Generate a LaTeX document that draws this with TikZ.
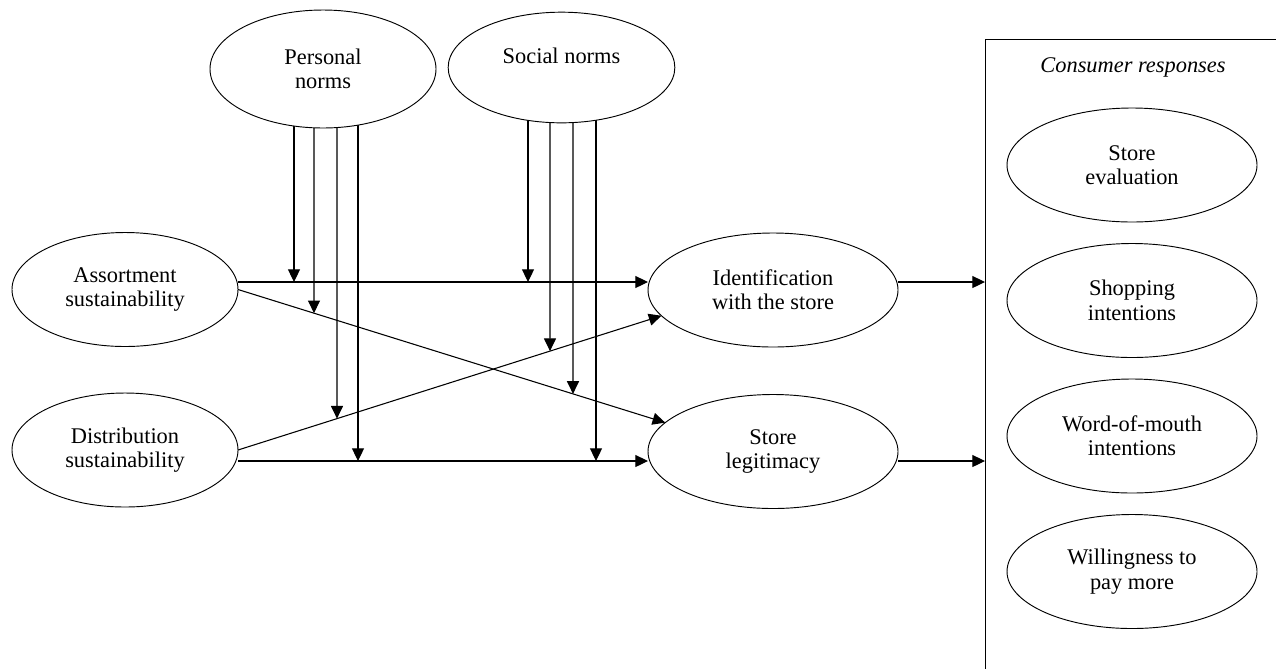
\documentclass[tikz,border=0pt]{standalone}
\usepackage{fontspec}
\setmainfont{Liberation Serif}
\usetikzlibrary{arrows.meta,shapes.geometric,backgrounds,calc}
\begin{document}
\begin{tikzpicture}[x=0.75pt,y=-0.75pt,
  ell/.style={ellipse,draw,line width=0.7pt,fill=white,inner sep=0pt,outer sep=0pt,align=center,font=\fontsize{16.8pt}{18.3pt}\selectfont},
  lft/.style={ell,minimum width=169.5pt,minimum height=85.5pt},
  mid/.style={ell,minimum width=187.5pt,minimum height=85.5pt},
  arr/.style={line width=0.8pt,-{Triangle[length=9.5pt,width=9pt]}},
  frame/.style={line width=0.7pt}]
\useasboundingbox (0,0) rectangle (1276,669);

% moderators
\node[ell,minimum width=169.5pt,minimum height=88.5pt] (pn) at (323,69) {Personal\\norms};
\node[ell,minimum width=170pt,minimum height=83pt] (sn) at (561.5,67.5) {Social norms\\~};

% predictors
\node[lft] (as) at (125,289.5) {Assortment\\sustainability};
\node[lft] (ds) at (125,450) {Distribution\\sustainability};

% mediators
\node[mid] (id) at (773,290) {Identification\\with the store};
\node[mid] (lg) at (773,451.5) {Store\\legitimacy};

% consumer responses
\coordinate (boxtl) at (985,39);
\coordinate (boxtr) at (1276,39);
\coordinate (boxbl) at (985,669);
\draw[frame] (boxtr) -- (boxtl) -- (boxbl);
\node[font=\fontsize{16.8pt}{18.8pt}\selectfont\itshape,anchor=base] (cr) at (1133,72) {Consumer responses};
\node[mid] (se) at (1132,165) {Store\\evaluation};
\node[mid] (si) at (1132,300.5) {Shopping\\intentions};
\node[mid] (wm) at (1132,436) {Word-of-mouth\\intentions};
\node[mid] (wp) at (1132,571.5) {Willingness to\\pay more};

% main paths
\coordinate (aHs) at ($(as.east)+(0,-7.5)$);
\coordinate (aHe) at ($(id.west)+(0,-8)$);
\coordinate (dHs) at ($(ds.east)+(0,11)$);
\coordinate (dHe) at ($(lg.west)+(0,9.5)$);
\coordinate (aD1) at (as.east);
\coordinate (aD2) at (lg.165);
\coordinate (dD1) at (ds.east);
\coordinate (dD2) at (id.193);
\draw[arr] (aHs) -- (aHe);
\draw[arr] (dHs) -- (dHe);
\draw[arr] (aD1) -- (aD2);
\draw[arr] (dD1) -- (dD2);

% outputs
\coordinate (iO) at ($(id.east)+(0,-8)$);
\coordinate (lO) at ($(lg.east)+(0,9.5)$);
\draw[arr] (iO) -- (iO -| boxtl);
\draw[arr] (lO) -- (lO -| boxtl);

% moderating arrows
\coordinate (p1) at ($(pn.center)+(-29,0)$);
\coordinate (p2) at ($(pn.center)+(-9,0)$);
\coordinate (p3) at ($(pn.center)+(14,0)$);
\coordinate (p4) at ($(pn.center)+(35,0)$);
\coordinate (s1) at ($(sn.center)+(-33.5,0)$);
\coordinate (s2) at ($(sn.center)+(-11.5,0)$);
\coordinate (s3) at ($(sn.center)+(11.5,0)$);
\coordinate (s4) at ($(sn.center)+(34.5,0)$);
\foreach \p in {p2,p3,s2,s3} {\coordinate (\p b) at ($(\p)+(0,500)$);}
\begin{scope}[on background layer]
\draw[arr] (p1) -- (p1 |- aHs);
\draw[arr] (p2) -- (intersection of aD1--aD2 and p2--p2b);
\draw[arr] (p3) -- (intersection of dD1--dD2 and p3--p3b);
\draw[arr] (p4) -- (p4 |- dHs);
\draw[arr] (s1) -- (s1 |- aHs);
\draw[arr] (s2) -- (intersection of dD1--dD2 and s2--s2b);
\draw[arr] (s3) -- (intersection of aD1--aD2 and s3--s3b);
\draw[arr] (s4) -- (s4 |- dHs);
\end{scope}
\end{tikzpicture}
\end{document}
